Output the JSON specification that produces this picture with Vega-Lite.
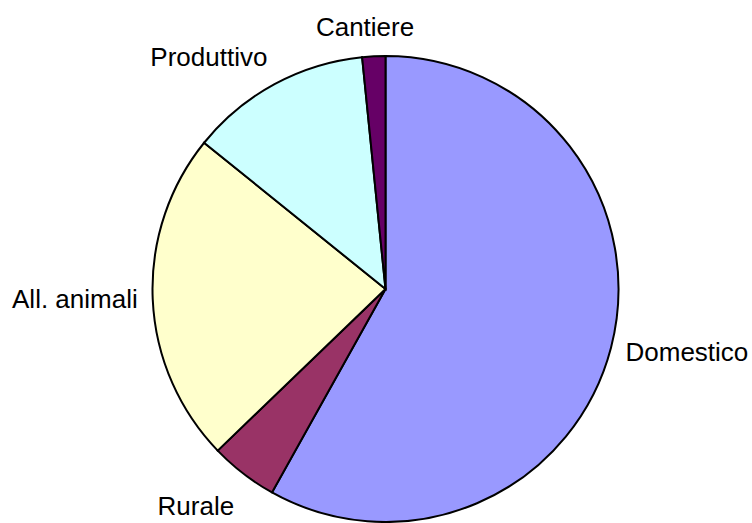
{
  "$schema": "https://vega.github.io/schema/vega-lite/v6.json",
  "width": 733,
  "height": 468,
  "autosize": {"type": "none"},
  "padding": {"left": 19, "top": 55, "right": 0, "bottom": 0},
  "background": "white",
  "config": {"view": {"stroke": null}},
  "data": {
    "values": [
      {"idx": 1, "cat": "Domestico", "value": 58.1},
      {"idx": 2, "cat": "Rurale", "value": 4.7},
      {"idx": 3, "cat": "All. animali", "value": 23.0},
      {"idx": 4, "cat": "Produttivo", "value": 12.6},
      {"idx": 5, "cat": "Cantiere", "value": 1.6}
    ]
  },
  "layer": [
    {
      "mark": {"type": "arc", "outerRadius": 233, "stroke": "black", "strokeWidth": 2},
      "encoding": {
        "theta": {"field": "value", "type": "quantitative", "stack": true},
        "order": {"field": "idx", "type": "quantitative"},
        "color": {
          "field": "cat",
          "type": "nominal",
          "scale": {
            "domain": ["Domestico", "Rurale", "All. animali", "Produttivo", "Cantiere"],
            "range": ["#9999FF", "#993366", "#FFFFCC", "#CCFFFF", "#660066"]
          },
          "legend": null
        }
      }
    },
    {
      "mark": {
        "type": "text",
        "radius": 248,
        "font": "Liberation Sans",
        "fontSize": 26,
        "color": "black",
        "align": {"expr": "datum.cat === 'Domestico' ? 'left' : datum.cat === 'Cantiere' ? 'center' : 'right'"},
        "baseline": {"expr": "datum.cat === 'Rurale' ? 'top' : (datum.cat === 'Cantiere' || datum.cat === 'Produttivo') ? 'bottom' : 'middle'"},
        "dx": {"expr": "datum.cat === 'Cantiere' ? -8 : 0"},
        "dy": {"expr": "datum.cat === 'Rurale' ? 9 : datum.cat === 'Domestico' ? 2 : 0"}
      },
      "encoding": {
        "theta": {"field": "value", "type": "quantitative", "stack": true},
        "order": {"field": "idx", "type": "quantitative"},
        "detail": {"field": "cat", "type": "nominal"},
        "text": {"field": "cat", "type": "nominal"}
      }
    }
  ]
}
